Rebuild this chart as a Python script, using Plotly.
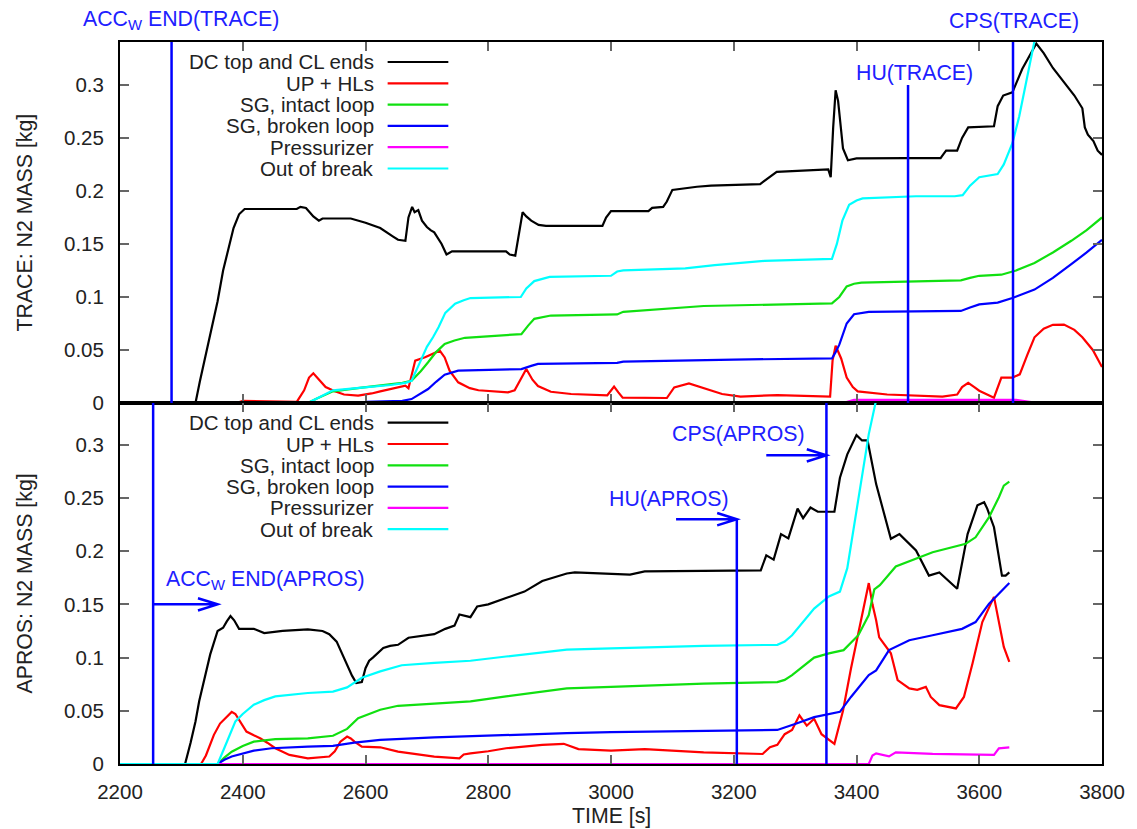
import plotly.graph_objects as go
from plotly.subplots import make_subplots

# ---------------- TRACE (top panel) ----------------
tr_dc_t = [2200, 2323, 2330, 2345, 2359, 2368, 2376, 2385, 2394, 2403, 2450, 2488, 2494, 2503, 2515, 2524, 2530, 2576,
           2600, 2624, 2645, 2653, 2665, 2670, 2676, 2680, 2686, 2692, 2700, 2706, 2712, 2718, 2724, 2732, 2741, 2829,
           2835, 2844, 2850, 2856, 2862, 2870, 2882, 2894, 2986, 2992, 3000, 3061, 3067, 3085, 3091, 3100, 3140, 3163,
           3243, 3255, 3270, 3354, 3358, 3362, 3366, 3370, 3378, 3386, 3400, 3481, 3537, 3542, 3546, 3564, 3572, 3582,
           3624, 3630, 3639, 3654, 3670, 3693, 3705, 3720, 3738, 3755, 3768, 3772, 3777, 3786, 3793, 3800]
tr_dc_v = [0, 0, 0.02, 0.06, 0.096, 0.125, 0.143, 0.165, 0.178, 0.183, 0.183, 0.183, 0.185, 0.184, 0.176, 0.172, 0.174, 0.174,
           0.170, 0.165, 0.157, 0.154, 0.153, 0.175, 0.185, 0.180, 0.182, 0.172, 0.166, 0.163, 0.161, 0.155, 0.150, 0.140, 0.143, 0.143,
           0.140, 0.139, 0.160, 0.180, 0.176, 0.172, 0.168, 0.167, 0.167, 0.175, 0.181, 0.181, 0.184, 0.185, 0.190, 0.201, 0.204, 0.205,
           0.2065, 0.212, 0.218, 0.2203, 0.213, 0.260, 0.295, 0.285, 0.240, 0.229, 0.2307, 0.231, 0.231, 0.235, 0.238, 0.238, 0.250, 0.260,
           0.261, 0.280, 0.290, 0.293, 0.315, 0.339, 0.330, 0.316, 0.303, 0.290, 0.278, 0.260, 0.253, 0.247, 0.238, 0.234]

tr_up_t = [2200, 2390, 2400, 2430, 2460, 2488, 2500, 2508, 2515, 2525, 2535, 2550, 2565, 2588, 2610, 2624, 2640, 2665, 2670,
           2681, 2697, 2712, 2721, 2729, 2737, 2751, 2770, 2784, 2832, 2843, 2852, 2862, 2872, 2881, 2902, 2935, 2994, 3000,
           3005, 3012, 3019, 3091, 3103, 3127, 3151, 3181, 3211, 3271, 3357, 3361, 3366, 3375, 3384, 3394, 3402, 3450, 3540,
           3564, 3572, 3582, 3592, 3600, 3624, 3630, 3636, 3654, 3666, 3678, 3690, 3705, 3720, 3738, 3755, 3768, 3785, 3800]
tr_up_v = [0, 0, 0.002, 0.0015, 0.0008, 0.001, 0.012, 0.024, 0.028, 0.022, 0.015, 0.011, 0.008, 0.007, 0.009, 0.011, 0.013, 0.0164, 0.014,
           0.040, 0.0431, 0.047, 0.0494, 0.043, 0.0305, 0.0195, 0.014, 0.012, 0.010, 0.012, 0.022, 0.032, 0.022, 0.016, 0.0106, 0.0085, 0.0073, 0.012,
           0.0154, 0.010, 0.005, 0.0047, 0.0147, 0.0185, 0.014, 0.0085, 0.006, 0.0075, 0.006, 0.040, 0.054, 0.042, 0.024, 0.015, 0.011, 0.008, 0.006,
           0.008, 0.015, 0.019, 0.015, 0.0116, 0.005, 0.015, 0.024, 0.024, 0.027, 0.045, 0.062, 0.070, 0.0737, 0.074, 0.069, 0.062, 0.050, 0.034]

tr_sgi_t = [2200, 2506, 2520, 2547, 2594, 2621, 2660, 2675, 2690, 2702, 2715, 2729, 2745, 2762, 2854, 2865, 2875, 2902, 3010,
            3020, 3151, 3360, 3372, 3384, 3396, 3408, 3570, 3585, 3600, 3636, 3660, 3690, 3720, 3750, 3775, 3800]
tr_sgi_v = [0, 0, 0.004, 0.011, 0.0145, 0.0164, 0.019, 0.021, 0.030, 0.0384, 0.048, 0.0558, 0.059, 0.0615, 0.065, 0.073, 0.0794, 0.0825, 0.0835,
            0.086, 0.0915, 0.094, 0.100, 0.110, 0.1125, 0.1135, 0.1157, 0.118, 0.120, 0.121, 0.125, 0.132, 0.142, 0.153, 0.163, 0.175]

tr_sgb_t = [2200, 2330, 2400, 2600, 2660, 2675, 2690, 2702, 2715, 2729, 2751, 2854, 2870, 2881, 3010, 3020, 3200, 3360, 3366,
            3372, 3384, 3396, 3420, 3570, 3585, 3600, 3630, 3654, 3690, 3720, 3750, 3775, 3800]
tr_sgb_v = [0, 0, 0.0005, 0.001, 0.002, 0.0037, 0.009, 0.0132, 0.020, 0.0267, 0.0305, 0.032, 0.035, 0.0369, 0.0378, 0.039, 0.041, 0.042, 0.048,
            0.055, 0.075, 0.0837, 0.086, 0.0868, 0.090, 0.093, 0.0947, 0.099, 0.107, 0.118, 0.131, 0.142, 0.154]

tr_prz_t = [2200, 3378, 3396, 3660, 3690, 3800]
tr_prz_v = [0, 0, 0.003, 0.003, 0.0005, 0]

tr_brk_t = [2200, 2506, 2520, 2547, 2594, 2641, 2665, 2675, 2690, 2700, 2710, 2719, 2730, 2746, 2760, 2771, 2853, 2862, 2875,
            2900, 3000, 3010, 3020, 3121, 3169, 3250, 3360, 3368, 3377, 3388, 3400, 3410, 3497, 3560, 3573, 3585, 3600, 3630,
            3640, 3654, 3665, 3672, 3682, 3690, 3700]
tr_brk_v = [0, 0, 0.004, 0.012, 0.0145, 0.017, 0.019, 0.021, 0.040, 0.053, 0.062, 0.0715, 0.085, 0.0936, 0.097, 0.099, 0.100, 0.108, 0.115,
            0.119, 0.120, 0.124, 0.125, 0.127, 0.130, 0.134, 0.136, 0.150, 0.172, 0.187, 0.191, 0.193, 0.195, 0.195, 0.196, 0.205, 0.213, 0.216,
            0.225, 0.245, 0.270, 0.290, 0.315, 0.340, 0.370]

# ---------------- APROS (bottom panel) ----------------
ap_dc_t = [2200, 2306, 2315, 2323, 2329, 2340, 2347, 2359, 2368, 2374, 2380, 2386, 2394, 2418, 2435, 2465, 2506, 2530, 2541,
           2553, 2562, 2570, 2578, 2585, 2594, 2600, 2606, 2612, 2620, 2629, 2640, 2653, 2670, 2690, 2712, 2730, 2745, 2753,
           2771, 2782, 2800, 2829, 2859, 2888, 2928, 2941, 3031, 3055, 3244, 3253, 3265, 3277, 3289, 3304, 3313, 3325, 3337,
           3364, 3373, 3385, 3400, 3409, 3418, 3432, 3456, 3470, 3497, 3518, 3535, 3564, 3581, 3597, 3608, 3613, 3624, 3637,
           3643, 3649]
ap_dc_v = [0, 0, 0.02, 0.04, 0.059, 0.085, 0.103, 0.125, 0.128, 0.134, 0.139, 0.135, 0.127, 0.127, 0.123, 0.125, 0.1265, 0.125, 0.122,
           0.115, 0.103, 0.093, 0.083, 0.076, 0.077, 0.090, 0.097, 0.100, 0.104, 0.109, 0.111, 0.112, 0.1186, 0.120, 0.122, 0.127, 0.130, 0.1405,
           0.138, 0.148, 0.150, 0.156, 0.162, 0.172, 0.179, 0.180, 0.178, 0.181, 0.182, 0.196, 0.192, 0.216, 0.212, 0.240, 0.231, 0.241, 0.237,
           0.237, 0.269, 0.291, 0.309, 0.304, 0.304, 0.263, 0.2116, 0.216, 0.2006, 0.177, 0.180, 0.1647, 0.216, 0.243, 0.246, 0.240, 0.2225, 0.177,
           0.177, 0.180]

ap_up_t = [2200, 2332, 2340, 2353, 2363, 2371, 2382, 2388, 2394, 2400, 2406, 2418, 2429, 2440, 2453, 2476, 2506, 2541, 2550,
           2559, 2570, 2576, 2582, 2594, 2624, 2653, 2712, 2753, 2760, 2771, 2800, 2829, 2888, 2923, 2947, 3000, 3055, 3151,
           3247, 3259, 3271, 3283, 3295, 3307, 3319, 3331, 3343, 3364, 3378, 3391, 3405, 3420, 3426, 3432, 3437, 3456, 3467,
           3486, 3499, 3513, 3521, 3535, 3562, 3575, 3589, 3605, 3624, 3632, 3640, 3649]
ap_up_v = [0, 0, 0.008, 0.0274, 0.038, 0.043, 0.049, 0.047, 0.0415, 0.036, 0.0305, 0.027, 0.024, 0.020, 0.0148, 0.0085, 0.0053, 0.007, 0.012,
           0.021, 0.0258, 0.024, 0.021, 0.0164, 0.0157, 0.0116, 0.007, 0.0053, 0.009, 0.010, 0.012, 0.0148, 0.018, 0.019, 0.014, 0.0126, 0.014, 0.011,
           0.0094, 0.0157, 0.018, 0.028, 0.032, 0.0457, 0.036, 0.0425, 0.028, 0.019, 0.050, 0.0898, 0.130, 0.170, 0.150, 0.135, 0.119, 0.104, 0.0788,
           0.071, 0.0697, 0.0725, 0.063, 0.0553, 0.0522, 0.063, 0.0944, 0.1334, 0.157, 0.135, 0.110, 0.096]

ap_sgi_t = [2200, 2359, 2370, 2382, 2400, 2418, 2453, 2506, 2547, 2560, 2570, 2588, 2624, 2653, 2712, 2771, 2829, 2928, 3000,
            3151, 3271, 3283, 3295, 3331, 3355, 3379, 3403, 3420, 3429, 3438, 3464, 3524, 3578, 3594, 3616, 3632, 3640, 3649]
ap_sgi_v = [0, 0, 0.006, 0.0116, 0.017, 0.021, 0.0233, 0.024, 0.0265, 0.030, 0.033, 0.043, 0.051, 0.0547, 0.057, 0.0588, 0.0635, 0.071, 0.0724,
            0.0756, 0.077, 0.079, 0.0835, 0.100, 0.104, 0.107, 0.121, 0.140, 0.164, 0.168, 0.1856, 0.199, 0.207, 0.213, 0.232, 0.2506, 0.2616, 0.2653]

ap_sgb_t = [2200, 2359, 2370, 2382, 2418, 2447, 2506, 2547, 2582, 2624, 2712, 2829, 2928, 3000, 3151, 3271, 3301, 3331, 3373,
            3391, 3420, 3432, 3453, 3486, 3524, 3572, 3594, 3616, 3649]
ap_sgb_v = [0, 0, 0.004, 0.007, 0.0126, 0.0148, 0.0164, 0.017, 0.020, 0.0226, 0.025, 0.0274, 0.029, 0.030, 0.0315, 0.032, 0.0378, 0.044, 0.049,
            0.063, 0.0835, 0.088, 0.107, 0.1163, 0.121, 0.127, 0.1334, 0.1506, 0.170]

ap_prz_t = [2200, 3420, 3426, 3432, 3453, 3464, 3524, 3594, 3624, 3632, 3649]
ap_prz_v = [0, 0, 0.0079, 0.010, 0.0072, 0.011, 0.0095, 0.0084, 0.0085, 0.0147, 0.0156]

ap_brk_t = [2200, 2359, 2370, 2388, 2400, 2418, 2435, 2453, 2506, 2547, 2570, 2594, 2624, 2659, 2712, 2771, 2829, 2928, 3000,
            3151, 3271, 3283, 3295, 3313, 3331, 3355, 3373, 3385, 3396, 3408, 3420, 3432, 3445]
ap_brk_v = [0, 0, 0.015, 0.040, 0.047, 0.0557, 0.060, 0.0635, 0.0667, 0.068, 0.072, 0.081, 0.087, 0.0928, 0.095, 0.097, 0.101, 0.1075, 0.1087,
            0.111, 0.112, 0.115, 0.121, 0.133, 0.146, 0.1575, 0.162, 0.184, 0.225, 0.269, 0.310, 0.342, 0.380]

series_names = ["DC top and CL ends", "UP + HLs", "SG, intact loop", "SG, broken loop", "Pressurizer", "Out of break"]
series_colors = ["#000000", "#ff0000", "#10e010", "#0000ff", "#ff00ff", "#00ffff"]

trace_series = [(tr_dc_t, tr_dc_v), (tr_up_t, tr_up_v), (tr_sgi_t, tr_sgi_v),
                (tr_sgb_t, tr_sgb_v), (tr_prz_t, tr_prz_v), (tr_brk_t, tr_brk_v)]
apros_series = [(ap_dc_t, ap_dc_v), (ap_up_t, ap_up_v), (ap_sgi_t, ap_sgi_v),
                (ap_sgb_t, ap_sgb_v), (ap_prz_t, ap_prz_v), (ap_brk_t, ap_brk_v)]

# event times
acc_trace_t, hu_trace_t, cps_trace_t = 2284, 3484, 3655
acc_apros_t, hu_apros_t, cps_apros_t = 2254, 3205, 3351

x_ticks = [2200, 2400, 2600, 2800, 3000, 3200, 3400, 3600, 3800]
y_ticks = [0, 0.05, 0.1, 0.15, 0.2, 0.25, 0.3]

# ---------------- figure ----------------
W, H = 1137, 829
ML, MR, MT, MB = 120, 30, 42, 65
PW, PH = W - ML - MR, H - MT - MB

def px(xp):
    return (xp - ML) / PW

def py(yp):
    return (H - MB - yp) / PH

FONT = "Liberation Sans, Arial, sans-serif"
FS = 20.5
FS_TXT = 21.3
FS_LEG = 20.5
TXT = "#222222"
BLUE_T = "#2020ff"
BLUE_L = "#0000ff"

fig = make_subplots(rows=2, cols=1, shared_xaxes=True, vertical_spacing=0)

for row, data in ((1, trace_series), (2, apros_series)):
    for (t, v), name, col in zip(data, series_names, series_colors):
        fig.add_trace(go.Scatter(x=t, y=v, mode="lines", name=name,
                                 line=dict(color=col, width=2.2), showlegend=False),
                      row=row, col=1)

axis_common = dict(showline=True, linecolor="black", linewidth=2, mirror="ticks",
                   ticks="inside", ticklen=9, tickwidth=1.5, tickcolor="#666666",
                   showgrid=False, zeroline=False,
                   tickfont=dict(family=FONT, size=FS, color=TXT))

fig.update_xaxes(range=[2200, 3800], tickmode="array", tickvals=x_ticks, **axis_common)
fig.update_xaxes(showticklabels=False, row=1, col=1)
fig.update_xaxes(ticklabelstandoff=8, row=2, col=1)
fig.update_yaxes(tickmode="array", tickvals=y_ticks, ticktext=[f"{v:g}" for v in y_ticks],
                 ticklabelstandoff=10, **axis_common)
fig.update_yaxes(range=[0, 0.3405], domain=[0.5, 1.0], row=1, col=1)
fig.update_yaxes(range=[0, 0.3392], domain=[0.0, 0.5], row=2, col=1)

shapes = []
annotations = []

# --- event lines TRACE (top: x / y) ---
for t in (acc_trace_t, cps_trace_t):
    shapes.append(dict(type="line", xref="x", yref="y domain", x0=t, x1=t, y0=0, y1=1,
                       line=dict(color=BLUE_L, width=2.5)))
shapes.append(dict(type="line", xref="x", yref="y", x0=hu_trace_t, x1=hu_trace_t, y0=0, y1=0.300,
                   line=dict(color=BLUE_L, width=2.5)))

# --- event lines APROS (bottom: x2 / y2) ---
for t in (acc_apros_t, cps_apros_t):
    shapes.append(dict(type="line", xref="x2", yref="y2 domain", x0=t, x1=t, y0=0, y1=1,
                       line=dict(color=BLUE_L, width=2.5)))
shapes.append(dict(type="line", xref="x2", yref="y2", x0=hu_apros_t, x1=hu_apros_t, y0=0, y1=0.23,
                   line=dict(color=BLUE_L, width=2.5)))

def arrow(x0, x1, y):
    hl, hw = 32, 0.0058
    return dict(type="path", xref="x2", yref="y2",
                path=f"M {x0},{y} L {x1},{y} M {x1-hl},{y+hw} L {x1},{y} L {x1-hl},{y-hw}",
                line=dict(color=BLUE_L, width=2.5))

shapes.append(arrow(acc_apros_t, 2359, 0.15))
shapes.append(arrow(3106, hu_apros_t, 0.23))
shapes.append(arrow(3253, cps_apros_t, 0.29))

lab_font = dict(family=FONT, size=FS_TXT, color=BLUE_T)
annotations.append(dict(text="ACC<sub>W</sub> END(TRACE)", xref="paper", yref="paper",
                        x=px(181), y=py(20), xanchor="center", yanchor="middle",
                        showarrow=False, font=lab_font))
annotations.append(dict(text="CPS(TRACE)", xref="paper", yref="paper",
                        x=px(1019), y=py(21), xanchor="center", yanchor="middle",
                        showarrow=False, font=lab_font))
annotations.append(dict(text="HU(TRACE)", xref="x", yref="y",
                        x=3495, y=0.311, xanchor="center", yanchor="middle",
                        showarrow=False, font=lab_font))
annotations.append(dict(text="ACC<sub>W</sub> END(APROS)", xref="x2", yref="y2",
                        x=2271, y=0.1726, xanchor="left", yanchor="middle",
                        showarrow=False, font=lab_font))
annotations.append(dict(text="HU(APROS)", xref="x2", yref="y2",
                        x=3095, y=0.249, xanchor="center", yanchor="middle",
                        showarrow=False, font=lab_font))
annotations.append(dict(text="CPS(APROS)", xref="x2", yref="y2",
                        x=3208, y=0.31, xanchor="center", yanchor="middle",
                        showarrow=False, font=lab_font))

# --- manual legends (gnuplot style: text right, sample line to the right) ---
for top in (62, 422.7):
    for i, (name, col) in enumerate(zip(series_names, series_colors)):
        yy = top + i * 21.3
        annotations.append(dict(text=name, xref="paper", yref="paper", x=px(377), y=py(yy),
                                xanchor="right", yanchor="middle", showarrow=False,
                                font=dict(family=FONT, size=FS_LEG, color=TXT)))
        shapes.append(dict(type="line", xref="paper", yref="paper",
                           x0=px(389), x1=px(450), y0=py(yy), y1=py(yy),
                           line=dict(color=col, width=2.2)))

# --- axis titles ---
annotations.append(dict(text="TRACE: N2 MASS [kg]", xref="paper", yref="paper",
                        x=px(25), y=py(222), textangle=-90, xanchor="center", yanchor="middle",
                        showarrow=False, font=dict(family=FONT, size=FS_TXT, color=TXT)))
annotations.append(dict(text="APROS: N2 MASS [kg]", xref="paper", yref="paper",
                        x=px(25), y=py(583), textangle=-90, xanchor="center", yanchor="middle",
                        showarrow=False, font=dict(family=FONT, size=FS_TXT, color=TXT)))
annotations.append(dict(text="TIME [s]", xref="paper", yref="paper",
                        x=px(614), y=py(816), xanchor="center", yanchor="middle",
                        showarrow=False, font=dict(family=FONT, size=FS_TXT, color=TXT)))

fig.update_layout(width=W, height=H, margin=dict(l=ML, r=MR, t=MT, b=MB),
                  paper_bgcolor="white", plot_bgcolor="white",
                  shapes=shapes, annotations=annotations, showlegend=False)

fig.write_html("out.html")
